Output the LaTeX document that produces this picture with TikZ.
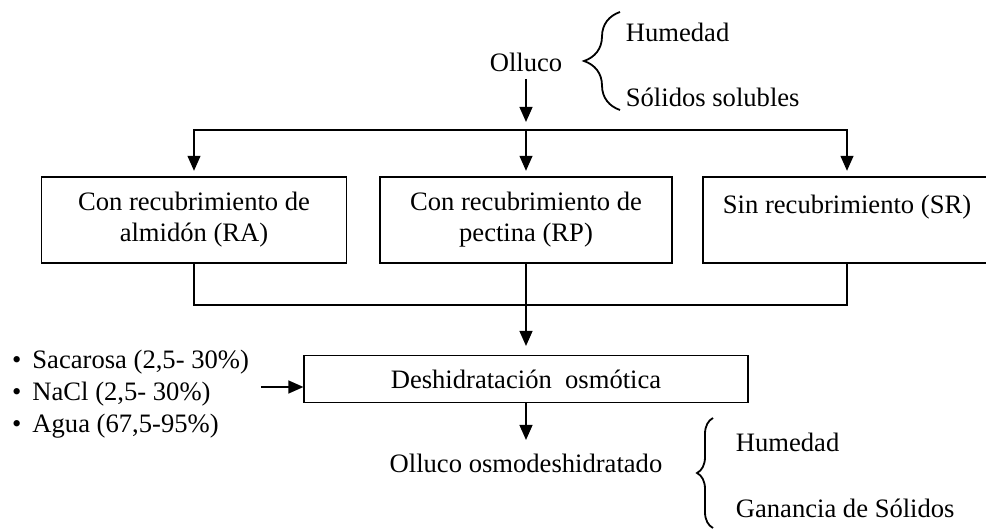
\documentclass[tikz,border=0pt]{standalone}
\usepackage{fontspec}
\setmainfont{Liberation Serif}
\usetikzlibrary{arrows.meta,positioning,decorations.pathreplacing}
\tikzset{>={Triangle[length=7.5pt,width=6.4pt]}}
\tikzset{
  caja/.style={draw, rectangle, align=center, inner sep=2pt},
  lado/.style={anchor=west, inner sep=0pt},
}

\begin{document}
\begin{tikzpicture}[x=0.5pt, y=-0.5pt, line width=0.9pt, every node/.style={font=\fontsize{13.3}{15.5}\selectfont}]
      \useasboundingbox (0,0) rectangle (986,529);
      \node[caja, minimum width=145.75pt, minimum height=43.25pt] (n2) at (526,220) {Con recubrimiento de\\pectina (RP)};
      \node[above of=n2, node distance=79pt] (n0) {Olluco};
      \node[caja, left of=n2, node distance=166pt, minimum width=152.5pt, minimum height=43.25pt] (n1) {Con recubrimiento de\\almidón (RA)};
      \node[caja, right of=n2, node distance=160.5pt, minimum width=144pt, minimum height=43.25pt] (n3) {Sin recubrimiento (SR)\\~};
      \node[caja, below of=n2, node distance=79.5pt, minimum width=221.65pt, minimum height=23.5pt] (n4) {Deshidratación~~osmótica};
      \node[below of=n4, node distance=42pt] (n5) {Olluco osmodeshidratado};
      \node[anchor=west, align=left, inner sep=0pt, outer xsep=6pt, font=\fontsize{13.3}{16}\selectfont] (n6) at (0,394) {\textbullet\hspace{0.42em}Sacarosa (2,5- 30\%)\\\textbullet\hspace{0.42em}NaCl (2,5- 30\%)\\\textbullet\hspace{0.42em}Agua (67,5-95\%)};
      \node[lado] (h1) at (625,32) {Humedad};
      \node[lado] (s1) at (625,97) {Sólidos solubles};
      \node[lado] (h2) at (735,442) {Humedad};
      \node[lado] (g2) at (735,508) {Ganancia de Sólidos};
      \coordinate[below of=n0, node distance=30pt] (aux1);
      \coordinate[below of=n0, node distance=34pt] (aux2);
      \coordinate[below of=n2, node distance=42.5pt] (aux3);
      \coordinate[below of=n4, node distance=4pt] (aux4);
      \coordinate[above of=n5, node distance=11.5pt] (aux5);
      \draw[->] (n0.south) -- (aux1);
      \draw[->, shorten >=2.5pt] (aux2) -| (n1.north);
      \draw[->, shorten >=2.5pt] (aux2) -| (n3.north);
      \draw[->, shorten >=2.5pt] (n2.north |- aux2) -- (n2.north);
      \draw (n1.south) |- (aux3) -| (n3.south);
      \draw[->, shorten >=4.3pt] (n2.south) -- (n4.north);
      \draw[->] (n6.east |- aux4) -- (aux4 -| n4.west);
      \draw[->] (n4.south) -- (aux5);
      % llaves
      \draw[decorate, decoration={brace, amplitude=18pt}] (620,110) -- (620,12);
      \draw[decorate, decoration={brace, amplitude=8pt}] (713,528) -- (713,418);
    \end{tikzpicture}
\end{document}
